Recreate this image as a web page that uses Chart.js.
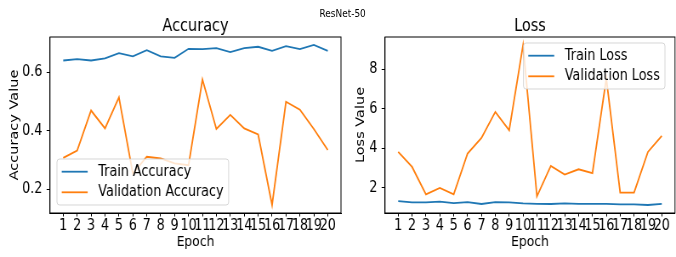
<!DOCTYPE html>
<html>
<head>
<meta charset="utf-8">
<script src="https://cdn.jsdelivr.net/npm/chart.js@4.4.0/dist/chart.umd.min.js"></script>
<style>
  html, body { margin: 0; padding: 0; background: #fff; overflow: hidden; }
  /* the reference is squeezed sideways, so lay out wide and scale down */
  #figure { position: relative; width: 795px; height: 257px; transform: scaleX(0.8503); transform-origin: 0 0; }
  #figure canvas { position: absolute; top: 0; }
  #acc { left: 0; }
  #loss { left: 400px; }
  #suptitle { position: absolute; left: 353px; width: 100px; top: 7.6px; text-align: center; font: 10.5px/1 'DejaVu Sans', sans-serif; color: #000; }
</style>
</head>
<body>
<div id="figure">
  <div id="suptitle">ResNet-50</div>
  <canvas id="acc" width="410" height="257"></canvas>
  <canvas id="loss" width="395" height="257"></canvas>
</div>
<script>
const epochs = [1, 2, 3, 4, 5, 6, 7, 8, 9, 10, 11, 12, 13, 14, 15, 16, 17, 18, 19, 20];
const trainAcc = [0.640, 0.645, 0.640, 0.647, 0.665, 0.654, 0.675, 0.654, 0.649, 0.680,
                  0.679, 0.682, 0.669, 0.682, 0.687, 0.673, 0.689, 0.679, 0.693, 0.673];
const valAcc = [0.307, 0.332, 0.469, 0.408, 0.514, 0.253, 0.311, 0.305, 0.288, 0.282,
                0.575, 0.406, 0.454, 0.408, 0.387, 0.146, 0.499, 0.472, 0.406, 0.334];
const trainLoss = [1.32, 1.25, 1.25, 1.29, 1.22, 1.27, 1.17, 1.27, 1.25, 1.20,
                   1.18, 1.17, 1.20, 1.18, 1.18, 1.18, 1.15, 1.15, 1.12, 1.18];
const valLoss = [3.81, 3.05, 1.66, 1.98, 1.66, 3.73, 4.52, 5.84, 4.91, 9.23,
                 1.56, 3.10, 2.66, 2.93, 2.74, 7.54, 1.75, 1.75, 3.81, 4.62];
const accTicks = [0.2, 0.4, 0.6];
const lossTicks = [2, 4, 6, 8];

const BLUE = '#1f77b4';
const ORANGE = '#ff7f0e';

Chart.defaults.font.family = "'DejaVu Sans', sans-serif";
Chart.defaults.color = '#000';

// matplotlib style box around the axes
const frame = {
    id: 'frame',
    afterDraw(chart) {
        const { ctx, chartArea: a } = chart;
        ctx.save();
        ctx.strokeStyle = '#000';
        ctx.lineWidth = 1;
        ctx.strokeRect(a.left, a.top, a.right - a.left, a.bottom - a.top);
        ctx.restore();
    }
};

// legend drawn inside the axes with a rounded frame
const boxLegend = {
    id: 'boxLegend',
    afterDraw(chart, args, opts) {
        const { ctx, chartArea: a } = chart;
        const sets = chart.data.datasets;
        ctx.save();
        ctx.font = "15px 'DejaVu Sans'";
        const textW = Math.max(...sets.map(d => ctx.measureText(d.label).width));
        const w = 48.6 + textW + 6, h = 46;
        const x = opts.corner === 'lower left' ? a.left + 8.2 : a.right - 11.8 - w;
        const y = opts.corner === 'lower left' ? a.bottom - 8 - h : a.top + 6;
        const r = 3;
        ctx.beginPath();
        ctx.moveTo(x + r, y);
        ctx.arcTo(x + w, y, x + w, y + h, r);
        ctx.arcTo(x + w, y + h, x, y + h, r);
        ctx.arcTo(x, y + h, x, y, r);
        ctx.arcTo(x, y, x + w, y, r);
        ctx.closePath();
        ctx.fillStyle = 'rgba(255,255,255,0.8)';
        ctx.fill();
        ctx.strokeStyle = 'rgba(204,204,204,0.8)';
        ctx.lineWidth = 1;
        ctx.stroke();
        sets.forEach((d, i) => {
            const cy = y + 12.7 + i * 20.6;
            ctx.strokeStyle = d.borderColor;
            ctx.lineWidth = 1.8;
            ctx.beginPath();
            ctx.moveTo(x + 5.6, cy);
            ctx.lineTo(x + 36.1, cy);
            ctx.stroke();
            ctx.fillStyle = '#000';
            ctx.textBaseline = 'middle';
            ctx.fillText(d.label, x + 48.6, cy);
        });
        ctx.restore();
    }
};

function makeChart(canvas, cfg) {
    const all = cfg.series.flatMap(s => s.values);
    const lo = Math.min(...all), hi = Math.max(...all);
    const ypad = (hi - lo) * 0.05;
    const xpad = (epochs[epochs.length - 1] - epochs[0]) * 0.05;
    return new Chart(canvas, {
        type: 'line',
        data: {
            datasets: cfg.series.map(s => ({
                label: s.label,
                data: epochs.map((e, i) => ({ x: e, y: s.values[i] })),
                borderColor: s.color,
                backgroundColor: s.color,
                borderWidth: 1.8,
                pointRadius: 0,
                tension: 0,
                fill: false
            }))
        },
        options: {
            responsive: false,
            animation: false,
            devicePixelRatio: 1,
            layout: { padding: { left: 0, right: cfg.padRight, top: 0, bottom: 0 } },
            plugins: {
                legend: { display: false },
                tooltip: { enabled: false },
                title: {
                    display: true, text: cfg.title, fullSize: false, color: '#000',
                    font: { size: 17, weight: 'normal' },
                    padding: { top: 16, bottom: 0.6 }
                },
                boxLegend: { corner: cfg.legendCorner }
            },
            scales: {
                x: {
                    type: 'linear',
                    min: epochs[0] - xpad,
                    max: epochs[epochs.length - 1] + xpad,
                    afterBuildTicks: sc => { sc.ticks = epochs.map(v => ({ value: v })); },
                    afterFit: sc => { sc.height = 44; },
                    ticks: { color: '#000', font: { size: 15 }, padding: 1, autoSkip: false, maxRotation: 0, minRotation: 0, callback: v => String(v) },
                    grid: { drawOnChartArea: false, tickLength: 3.5, tickColor: '#000', tickWidth: 1 },
                    border: { color: '#000', width: 1 },
                    title: { display: true, text: 'Epoch', color: '#000', font: { size: 14.5 }, padding: { top: 0, bottom: 6.3 } }
                },
                y: {
                    type: 'linear',
                    min: lo - ypad,
                    max: hi + ypad,
                    afterBuildTicks: sc => { sc.ticks = cfg.yTicks.map(v => ({ value: v })); },
                    afterFit: sc => { sc.width = cfg.yWidth; },
                    ticks: { color: '#000', font: { size: 15 }, padding: 5, callback: cfg.yFormat },
                    grid: { drawOnChartArea: false, tickLength: 4, tickColor: '#000', tickWidth: 1 },
                    border: { color: '#000', width: 1 },
                    title: { display: true, text: cfg.yTitle, color: '#000', font: { size: 14.5 }, padding: { top: cfg.yTitlePad, bottom: 0 } }
                }
            }
        },
        plugins: [frame, boxLegend]
    });
}

makeChart(document.getElementById('acc'), {
    title: 'Accuracy',
    yTitle: 'Accuracy Value',
    yTicks: accTicks,
    yFormat: v => v.toFixed(1),
    yWidth: 58.8,
    yTitlePad: 8.9,
    padRight: 9,
    legendCorner: 'lower left',
    series: [
        { label: 'Train Accuracy', values: trainAcc, color: BLUE },
        { label: 'Validation Accuracy', values: valAcc, color: ORANGE }
    ]
});

makeChart(document.getElementById('loss'), {
    title: 'Loss',
    yTitle: 'Loss Value',
    yTicks: lossTicks,
    yFormat: v => String(v),
    yWidth: 52.8,
    yTitlePad: 15.9,
    padRight: 1.2,
    legendCorner: 'upper right',
    series: [
        { label: 'Train Loss', values: trainLoss, color: BLUE },
        { label: 'Validation Loss', values: valLoss, color: ORANGE }
    ]
});
</script>
</body>
</html>
